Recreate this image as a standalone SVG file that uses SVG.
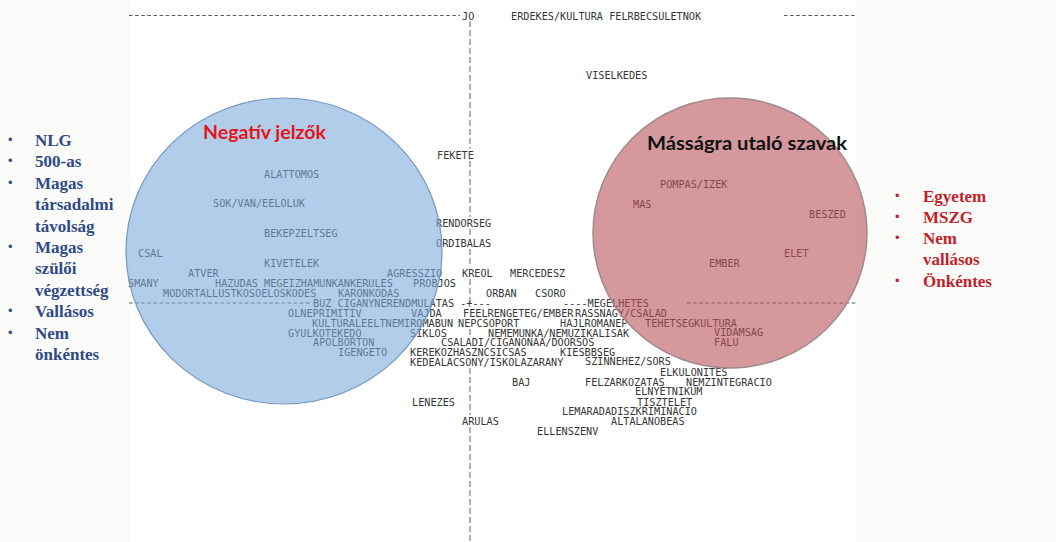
<svg xmlns="http://www.w3.org/2000/svg" width="1056" height="542" viewBox="0 0 1056 542">
<style>
.t{font-family:"DejaVu Sans Mono","Liberation Mono",monospace;font-size:10.2px;fill:#363636}
.ax{stroke:#5a5a5a;stroke-width:1;fill:none;stroke-dasharray:3.6 2.5}
.vx{stroke:#666;stroke-width:1;fill:none;stroke-dasharray:6 3}
.ttl{font-family:Lato,"Open Sans","Liberation Sans",sans-serif;font-weight:bold;font-size:19px}
.lb{font-family:"Liberation Serif","Times New Roman",serif;font-weight:bold;font-size:17px;fill:#2f4a86}
.rb{font-family:"Liberation Serif","Times New Roman",serif;font-weight:bold;font-size:17px;fill:#c41e2a}
.bl{font-family:"Liberation Sans",Arial,sans-serif;font-size:13px}
</style>
<rect x="0" y="0" width="1056" height="542" fill="#fbfbfa"/>
<rect x="130" y="0" width="726" height="542" fill="#ffffff"/>
<g id="axes">
<line class="ax" x1="129" y1="15.5" x2="460" y2="15.5"/>
<line class="ax" x1="784" y1="15.5" x2="856" y2="15.5"/>
<line class="ax" x1="129" y1="303" x2="311" y2="303"/>
<line class="ax" x1="687" y1="303" x2="856" y2="303"/>
<path class="vx" d="M470 21V149M470 161V217M470 229V237M470 249V267M470 279V307M470 329V336M470 368V415M470 427V542"/>
</g>
<g id="labels">
<text class="t" x="462" y="19.7">JO</text>
<text class="t" x="511" y="19.7">ERDEKES/KULTURA FELRBECSULETNOK</text>
<text class="t" x="586" y="78.7">VISELKEDES</text>
<text class="t" x="437" y="158.7">FEKETE</text>
<text class="t" x="264" y="177.7">ALATTOMOS</text>
<text class="t" x="660" y="187.7">POMPAS/IZEK</text>
<text class="t" x="213" y="206.7">SOK/VAN/EELOLUK</text>
<text class="t" x="633" y="207.7">MAS</text>
<text class="t" x="809" y="217.7">BESZED</text>
<text class="t" x="436" y="226.7">RENDORSEG</text>
<text class="t" x="264" y="236.7">BEKEPZELTSEG</text>
<text class="t" x="436" y="246.7">ORDIBALAS</text>
<text class="t" x="138" y="256.7">CSAL</text>
<text class="t" x="784" y="256.7">ELET</text>
<text class="t" x="264" y="266.7">KIVETELEK</text>
<text class="t" x="709" y="266.7">EMBER</text>
<text class="t" x="188" y="276.7">ATVER</text>
<text class="t" x="387" y="276.7">AGRESSZIO</text>
<text class="t" x="462" y="276.7">KREOL</text>
<text class="t" x="510" y="276.7">MERCEDESZ</text>
<text class="t" x="128" y="286.7">SMANY</text>
<text class="t" x="215" y="286.7">HAZUDAS MEGEIZHAMUNKANKERULES</text>
<text class="t" x="413" y="286.7">PROBJOS</text>
<text class="t" x="163" y="296.7">MODORTALLUSTKOSOELOSKODES</text>
<text class="t" x="338" y="296.7">KARONKODAS</text>
<text class="t" x="486" y="296.7">ORBAN</text>
<text class="t" x="535" y="296.7">CSORO</text>
<text class="t" x="313" y="306.7">BUZ CIGANYNERENDMULATAS -+---</text>
<text class="t" x="563" y="306.7">----MEGELHETES</text>
<text class="t" x="288" y="316.7">OLNEPRIMITIV</text>
<text class="t" x="411" y="316.7">VAJDA</text>
<text class="t" x="463" y="316.7">FEELRENGETEG/EMBER</text>
<text class="t" x="575" y="316.7">RASSNAGY/CSALAD</text>
<text class="t" x="312" y="326.7">KULTURALEELTNEMIROMABUN</text>
<text class="t" x="458" y="326.7">NEPCSOPORT</text>
<text class="t" x="560" y="326.7">HAJLROMANEP</text>
<text class="t" x="645" y="326.7">TEHETSEGKULTURA</text>
<text class="t" x="288" y="336.7">GYULKOTEKEDO</text>
<text class="t" x="410" y="336.7">SIKLOS</text>
<text class="t" x="488" y="336.7">NEMEMUNKA/NEMUZIKALISAK</text>
<text class="t" x="714" y="335.7">VIDAMSAG</text>
<text class="t" x="313" y="345.7">APOLBORTON</text>
<text class="t" x="441" y="345.7">CSALADI/CIGANONAA/DOORSOS</text>
<text class="t" x="714" y="345.7">FALU</text>
<text class="t" x="338" y="355.7">IGENGETO</text>
<text class="t" x="410" y="355.7">KEREKOZHASZNCSICSAS</text>
<text class="t" x="560" y="355.7">KIESBBSEG</text>
<text class="t" x="410" y="365.7">KEDEALACSONY/ISKOLAZARANY</text>
<text class="t" x="585" y="364.7">SZINNEHEZ/SORS</text>
<text class="t" x="660" y="375.7">ELKULONITES</text>
<text class="t" x="512" y="385.7">BAJ</text>
<text class="t" x="585" y="385.7">FELZARKOZATAS</text>
<text class="t" x="686" y="385.7">NEMZINTEGRACIO</text>
<text class="t" x="635" y="394.7">ELNYETNIKUM</text>
<text class="t" x="412" y="405.7">LENEZES</text>
<text class="t" x="637" y="405.7">TISZTELET</text>
<text class="t" x="562" y="414.7">LEMARADADISZKRIMINACIO</text>
<text class="t" x="462" y="424.7">ARULAS</text>
<text class="t" x="611" y="424.7">ALTALANOBEAS</text>
<text class="t" x="537" y="434.7">ELLENSZENV</text>
</g>
<g id="neg-circle">
<ellipse cx="284" cy="251" rx="158" ry="153" fill="#7aa9d9" fill-opacity="0.58" stroke="#7596c0" stroke-width="1.2"/>
<text class="ttl" x="203" y="139" fill="#e3141b" textLength="123" lengthAdjust="spacingAndGlyphs">Negatív jelzők</text>
</g>
<g id="mas-circle">
<ellipse cx="730" cy="233" rx="137" ry="135" fill="#b7535c" fill-opacity="0.6" stroke="#a08a8d" stroke-width="1.5"/>
<text class="ttl" x="647" y="150" fill="#111" textLength="200" lengthAdjust="spacingAndGlyphs">Másságra utaló szavak</text>
</g>
<g id="left-list">
<g class="bl" fill="#2f4a86">
<text x="8" y="144">•</text>
<text x="8" y="165.4">•</text>
<text x="8" y="186.8">•</text>
<text x="8" y="251">•</text>
<text x="8" y="315.2">•</text>
<text x="8" y="336.6">•</text>
</g>
<text class="lb" x="35" y="146">NLG</text>
<text class="lb" x="35" y="167.4">500-as</text>
<text class="lb" x="35" y="188.8">Magas</text>
<text class="lb" x="35" y="210.2">társadalmi</text>
<text class="lb" x="35" y="231.6">távolság</text>
<text class="lb" x="35" y="253">Magas</text>
<text class="lb" x="35" y="274.4">szülői</text>
<text class="lb" x="35" y="295.8">végzettség</text>
<text class="lb" x="35" y="317.2">Vallásos</text>
<text class="lb" x="35" y="338.6">Nem</text>
<text class="lb" x="35" y="360">önkéntes</text>
</g>
<g id="right-list">
<g class="bl" fill="#c41e2a">
<text x="895" y="199.5">•</text>
<text x="895" y="220.8">•</text>
<text x="895" y="242.1">•</text>
<text x="895" y="284.7">•</text>
</g>
<text class="rb" x="923" y="201.5">Egyetem</text>
<text class="rb" x="923" y="222.8">MSZG</text>
<text class="rb" x="923" y="244.1">Nem</text>
<text class="rb" x="923" y="265.4">vallásos</text>
<text class="rb" x="923" y="286.7">Önkéntes</text>
</g>
</svg>
